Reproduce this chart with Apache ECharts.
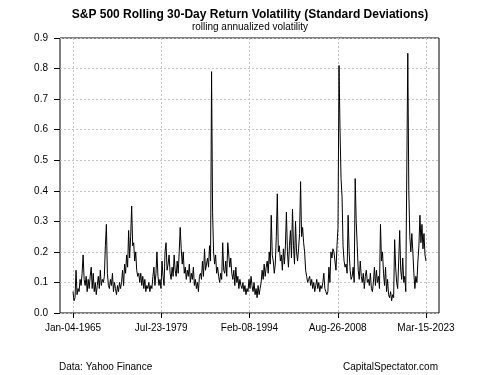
<!DOCTYPE html>
<html>
<head>
<meta charset="utf-8">
<script src="https://cdn.jsdelivr.net/npm/echarts@6/dist/echarts.min.js"></script>
<style>html,body{margin:0;padding:0;background:#fff;}</style>
</head>
<body>
<div id="vol-chart" style="width:500px;height:375px;"></div>
<script>
// x tick labels (evenly spaced over the trading-day index)
const dateLabels = ['Jan-04-1965', 'Jul-23-1979', 'Feb-08-1994', 'Aug-26-2008', 'Mar-15-2023'];

// rolling annualized volatility (about 6 readings a year)
const vol1960s = [
    0.07, 0.04, 0.05, 0.14, 0.06, 0.08,
    0.07, 0.11, 0.09, 0.13, 0.19, 0.11,
    0.09, 0.12, 0.07, 0.11, 0.08, 0.12,
    0.15, 0.08, 0.13, 0.07, 0.10, 0.06,
    0.09, 0.12, 0.08, 0.14, 0.09, 0.11
];
const vol1970s = [
    0.10, 0.12, 0.22, 0.29, 0.13, 0.09,
    0.08, 0.11, 0.09, 0.13, 0.07, 0.10,
    0.08, 0.06, 0.09, 0.07, 0.10, 0.08,
    0.10, 0.14, 0.09, 0.16, 0.13, 0.19,
    0.15, 0.27, 0.18, 0.25, 0.35, 0.22,
    0.23, 0.17, 0.20, 0.14, 0.12, 0.13,
    0.10, 0.13, 0.09, 0.12, 0.08, 0.11,
    0.07, 0.09, 0.08, 0.10, 0.07, 0.09,
    0.08, 0.12, 0.15, 0.09, 0.13, 0.20,
    0.12, 0.09, 0.11, 0.08, 0.17, 0.12
];
const vol1980s = [
    0.09, 0.20, 0.23, 0.14, 0.16, 0.19,
    0.13, 0.11, 0.15, 0.12, 0.19, 0.14,
    0.12, 0.17, 0.13, 0.20, 0.28, 0.21,
    0.16, 0.20, 0.13, 0.15, 0.11, 0.14,
    0.12, 0.16, 0.10, 0.13, 0.11, 0.15,
    0.09, 0.11, 0.08, 0.10, 0.07, 0.12,
    0.13, 0.11, 0.17, 0.12, 0.21, 0.14,
    0.14, 0.18, 0.15, 0.22, 0.17, 0.79,
    0.33, 0.20, 0.16, 0.19, 0.13, 0.15,
    0.12, 0.10, 0.13, 0.11, 0.23, 0.14
];
const vol1990s = [
    0.13, 0.17, 0.12, 0.23, 0.19, 0.15,
    0.18, 0.13, 0.11, 0.14, 0.09, 0.15,
    0.10, 0.12, 0.08, 0.11, 0.09, 0.08,
    0.10, 0.07, 0.09, 0.06, 0.08, 0.07,
    0.11, 0.08, 0.12, 0.09, 0.07, 0.10,
    0.06, 0.08, 0.05, 0.09, 0.06, 0.08,
    0.10, 0.14, 0.11, 0.16, 0.12, 0.15,
    0.17, 0.13, 0.20, 0.16, 0.32, 0.19,
    0.17, 0.13, 0.16, 0.25, 0.39, 0.20,
    0.22, 0.17, 0.19, 0.14, 0.21, 0.16
];
const vol2000s = [
    0.22, 0.33, 0.20, 0.15, 0.22, 0.27,
    0.18, 0.34, 0.22, 0.16, 0.30, 0.20,
    0.17, 0.21, 0.26, 0.43, 0.25, 0.28,
    0.23, 0.20, 0.14, 0.12, 0.10, 0.11,
    0.12, 0.09, 0.11, 0.08, 0.10, 0.07,
    0.09, 0.11, 0.08, 0.10, 0.07, 0.09,
    0.08, 0.10, 0.13, 0.08, 0.07, 0.06,
    0.07, 0.15, 0.10, 0.20, 0.18, 0.21,
    0.20, 0.17, 0.14, 0.22, 0.28, 0.81,
    0.60, 0.44, 0.38, 0.22, 0.17, 0.15
];
const vol2010s = [
    0.16, 0.13, 0.32, 0.20, 0.14, 0.11,
    0.12, 0.15, 0.10, 0.44, 0.30, 0.22,
    0.14, 0.11, 0.17, 0.12, 0.10, 0.13,
    0.08, 0.12, 0.14, 0.10, 0.11, 0.09,
    0.13, 0.08, 0.07, 0.10, 0.15, 0.09,
    0.14, 0.10, 0.12, 0.08, 0.29, 0.17,
    0.20, 0.13, 0.09, 0.15, 0.07, 0.11,
    0.06, 0.05, 0.07, 0.04, 0.06, 0.05,
    0.24, 0.15, 0.10, 0.08, 0.17, 0.27,
    0.14, 0.11, 0.18, 0.10, 0.12, 0.07
];
const vol2020s = [
    0.07, 0.85, 0.40, 0.25, 0.20, 0.26,
    0.20, 0.13, 0.08, 0.12, 0.10, 0.17,
    0.22, 0.32, 0.23, 0.29, 0.21, 0.26,
    0.19, 0.17
];

const vol = [].concat(vol1960s, vol1970s, vol1980s, vol1990s, vol2000s, vol2010s, vol2020s);
const lastIdx = vol.length - 1;
const step = lastIdx / (dateLabels.length - 1);

var chartDom = document.getElementById('vol-chart');
var myChart = echarts.init(chartDom);
var option;

const fontFamily = '"Liberation Sans", Arial, sans-serif';
const gridLine = { show: true, lineStyle: { color: '#c4c4c4', type: [2, 2], width: 1 } };

option = {
    animation: false,
    backgroundColor: '#fff',
    title: [
        {
            text: 'S&P 500 Rolling 30-Day Return Volatility (Standard Deviations)',
            left: 250, top: 9, textAlign: 'center', padding: 0,
            textStyle: { fontSize: 12, fontWeight: 'bold', color: '#000', fontFamily: fontFamily }
        },
        {
            text: 'rolling annualized volatility',
            left: 250, top: 22, textAlign: 'center', padding: 0,
            textStyle: { fontSize: 10, fontWeight: 'normal', color: '#000', fontFamily: fontFamily }
        },
        {
            text: 'Data: Yahoo Finance',
            left: 59, top: 362, padding: 0,
            textStyle: { fontSize: 10, fontWeight: 'normal', color: '#000', fontFamily: fontFamily }
        },
        {
            text: 'CapitalSpectator.com',
            right: 62, top: 362, padding: 0,
            textStyle: { fontSize: 10, fontWeight: 'normal', color: '#000', fontFamily: fontFamily }
        }
    ],
    grid: [
        // data area: first point to last point
        { left: 73, top: 38, width: 353, height: 275 },
        // plot box (R style, with padding on both sides)
        { left: 60, top: 38, width: 379, height: 275, show: true, borderColor: '#000', borderWidth: 1, backgroundColor: 'transparent' }
    ],
    xAxis: [
        {
            type: 'value', gridIndex: 0, min: 0, max: lastIdx, interval: step,
            axisLine: { show: false },
            axisTick: { show: true, length: 5, lineStyle: { color: '#000' } },
            axisLabel: {
                margin: 10, fontSize: 10, color: '#000', fontFamily: fontFamily,
                formatter: function (v) { return dateLabels[Math.round(v / step)] || ''; }
            },
            splitLine: gridLine
        },
        { type: 'value', gridIndex: 1, min: 0, max: 1, show: false }
    ],
    yAxis: [
        { type: 'value', gridIndex: 0, min: 0, max: 0.9, show: false },
        {
            type: 'value', gridIndex: 1, min: 0, max: 0.9, interval: 0.1,
            axisLine: { show: false },
            axisTick: { show: true, length: 6, lineStyle: { color: '#000' } },
            axisLabel: {
                margin: 12, fontSize: 10, color: '#000', fontFamily: fontFamily,
                formatter: function (v) { return v.toFixed(1); }
            },
            splitLine: gridLine
        }
    ],
    series: [
        {
            type: 'line',
            xAxisIndex: 0, yAxisIndex: 0,
            data: vol.map(function (v, i) { return [i, v]; }),
            showSymbol: false,
            lineStyle: { color: '#000', width: 1 },
            z: 3
        }
    ]
};

option && myChart.setOption(option);
</script>
</body>
</html>
